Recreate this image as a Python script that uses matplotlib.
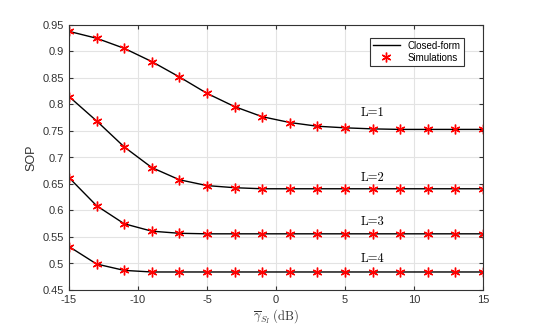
import matplotlib
matplotlib.use("Agg")
import matplotlib.pyplot as plt

plt.rcParams['font.family'] = 'Liberation Sans'
plt.rcParams['mathtext.fontset'] = 'cm'
plt.rcParams['axes.unicode_minus'] = False

snr = [-15, -13, -11, -9, -7, -5, -3, -1, 1, 3, 5, 7, 9, 11, 13, 15]
sop_L1 = [0.938, 0.925, 0.906, 0.881, 0.852, 0.821, 0.796, 0.777,
          0.766, 0.759, 0.756, 0.754, 0.753, 0.753, 0.753, 0.753]
sop_L2 = [0.815, 0.769, 0.720, 0.681, 0.658, 0.647, 0.643, 0.641,
          0.641, 0.641, 0.641, 0.641, 0.641, 0.641, 0.641, 0.641]
sop_L3 = [0.662, 0.609, 0.575, 0.561, 0.557, 0.556, 0.556, 0.556,
          0.556, 0.556, 0.556, 0.556, 0.556, 0.556, 0.556, 0.556]
sop_L4 = [0.532, 0.499, 0.487, 0.484, 0.484, 0.484, 0.484, 0.484,
          0.484, 0.484, 0.484, 0.484, 0.484, 0.484, 0.484, 0.484]
curves = [sop_L1, sop_L2, sop_L3, sop_L4]
labels = ["L=1", "L=2", "L=3", "L=4"]
label_pos = [(7, 0.784), (7, 0.661), (7, 0.579), (7, 0.508)]

fig = plt.figure(figsize=(5.34, 3.27), dpi=100)
ax = fig.add_axes([69/534, 37/327, 414/534, 265/327])

for i, y in enumerate(curves):
    ax.plot(snr, y, color="black", lw=1.0,
            label="Closed-form" if i == 0 else None)
    ax.plot(snr, y, ls="none", marker=(6, 2, 0), color="red", ms=7, mew=1.0,
            label="Simulations" if i == 0 else None)
    ax.text(label_pos[i][0], label_pos[i][1], labels[i], family="cmr10",
            ha="center", va="center", fontsize=9)

ax.set_xlim(-15, 15)
ax.set_ylim(0.45, 0.95)
ax.set_xticks(range(-15, 16, 5))
ax.set_yticks([0.45, 0.5, 0.55, 0.6, 0.65, 0.7, 0.75, 0.8, 0.85, 0.9, 0.95])
ax.set_yticklabels(["0.45", "0.5", "0.55", "0.6", "0.65", "0.7", "0.75",
                    "0.8", "0.85", "0.9", "0.95"])
ax.grid(True, color="#e3e3e3", lw=0.8)
ax.set_axisbelow(True)
ax.tick_params(direction="in", top=True, right=True, labelsize=8,
               colors="#333333", length=3)
for s in ax.spines.values():
    s.set_color("#333333")
    s.set_linewidth(0.8)

ax.set_xlabel("$\\overline{\\gamma}_{S_I}$ $\\mathrm{(dB)}$", fontsize=9,
              color="#333333", labelpad=2)
ax.set_ylabel("SOP", fontsize=9, color="#333333")

leg = ax.legend(loc="upper right", fontsize=7, fancybox=False,
                framealpha=1, edgecolor="#333333", borderpad=0.3,
                handlelength=2.8, labelspacing=0.2, bbox_to_anchor=(0.965, 0.97))
leg.get_frame().set_linewidth(0.8)

fig.savefig("out.png", dpi=100)
